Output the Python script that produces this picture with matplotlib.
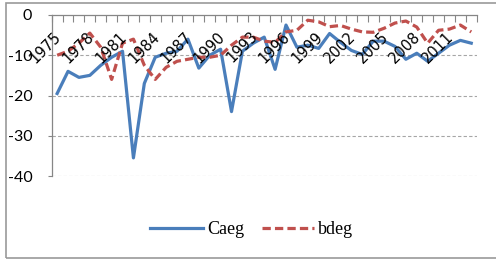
import matplotlib
matplotlib.use("Agg")
import matplotlib.pyplot as plt
from matplotlib.patches import Rectangle
from matplotlib.lines import Line2D

years = list(range(1975, 2014))
caeg = [-19.5, -14, -15.5, -15, -12.5, -10.5, -9, -35.5, -17, -10.5,
        -9.5, -9, -6, -13.2, -10, -8.5, -24, -9, -7, -5.5,
        -13.5, -2.5, -8, -7.5, -8.3, -4.6, -6.8, -8.8, -9.8, -6.5,
        -6.5, -7.8, -11, -9.5, -11.5, -9.5, -7.5, -6.3, -7]
bdeg = [-10, -9, -7, -4.5, -8, -16, -7, -6, -12.5, -16,
        -13, -11.5, -11, -10.5, -10.5, -10, -7.5, -5.5, -5.5, -6.5,
        -6.8, -4.2, -3.8, -1.3, -1.7, -2.9, -2.6, -3.5, -4.2, -4.3,
        -3.3, -2, -1.5, -3, -7, -3.8, -3.5, -2.5, -4.2]
series_names = ["Caeg", "bdeg"]
yticks = [0, -10, -20, -30, -40]
label_step = 3

plt.rcParams['axes.unicode_minus'] = False

W, H = 496, 261
fig = plt.figure(figsize=(W / 100, H / 100), dpi=100)
left, right, top, bottom = 51.7, 476.7, 15, 176
ax = fig.add_axes([left / W, 1 - bottom / H, (right - left) / W, (bottom - top) / H])

x = list(range(len(years)))
blue = '#4A7EBB'
red = '#C0504D'
ax.plot(x, caeg, color=blue, lw=2.3, solid_joinstyle='round', zorder=3)
ax.plot(x, bdeg, color=red, lw=2.3, linestyle=(0, (2.6, 1.3)), zorder=3)

ax.set_xlim(-0.5, len(years) - 0.5)
ax.set_ylim(-40, 0)

# y axis
ax.set_yticks(yticks)
ax.set_yticklabels([str(v) for v in yticks], fontfamily='Lato', fontsize=11.5)
ax.tick_params(axis='y', direction='out', length=3, width=0.8, color='#868686', pad=11)
for v in yticks[1:]:
    ax.axhline(v, color='#a6a6a6', lw=0.8, linestyle=(0, (3, 2)), zorder=1)

# x axis at y=0 (top)
ax.spines['bottom'].set_position(('data', 0))
ax.spines['top'].set_visible(False)
ax.spines['right'].set_visible(False)
for s in ['bottom', 'left']:
    ax.spines[s].set_color('#868686')
    ax.spines[s].set_linewidth(0.9)
ax.set_xticks([])
ax.set_xticks([i - 0.5 for i in range(len(years) + 1)], minor=True)
ax.tick_params(axis='x', which='minor', direction='out', length=5, width=0.8,
               color='#868686', labelbottom=False)
for i in range(0, len(years), label_step):
    ax.annotate(str(years[i]), xy=(i, 0), xycoords='data', xytext=(-2.5, -10),
                textcoords='offset points', rotation=45, ha='right', va='top',
                rotation_mode='anchor', fontfamily='DejaVu Sans', fontsize=10.5,
                annotation_clip=False, zorder=4)

# legend
handles = [Line2D([], [], color=blue, lw=2.3),
           Line2D([], [], color=red, lw=2.3, linestyle=(0, (2.6, 1.3)))]
leg = fig.legend(handles, series_names, loc='center', bbox_to_anchor=(252 / W, 1 - 230 / H),
                 ncol=2, frameon=False, handlelength=2.9, handletextpad=0.25,
                 columnspacing=0.95, prop={'family': 'Liberation Serif', 'size': 13})

# outer chart border
fig.add_artist(Rectangle((5.5 / W, 3 / H), (W + 5) / W, (255) / H, transform=fig.transFigure,
                         fill=False, edgecolor='#9a9a9a', lw=1.2))

fig.savefig('out.png', dpi=100)
